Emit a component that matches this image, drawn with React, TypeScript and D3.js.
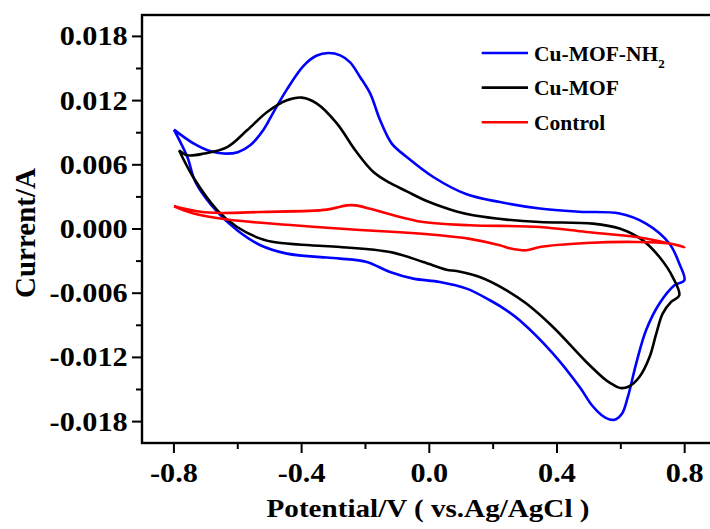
import React from "react";
import * as d3 from "d3";

// [Potential (V), Current (A)] traced around each closed CV loop
const cuMofNh2: [number, number][] = [
  [-0.8, 0.00929], [-0.7375, 0.00798], [-0.685, 0.00726], [-0.644, 0.00705], [-0.6, 0.00718],
  [-0.56, 0.00785], [-0.52, 0.00925], [-0.4875, 0.01095], [-0.446, 0.01305], [-0.394, 0.01525],
  [-0.354, 0.01619], [-0.316, 0.01645], [-0.279, 0.01623], [-0.248, 0.01558], [-0.217, 0.01421],
  [-0.185, 0.01265], [-0.154, 0.01016], [-0.1175, 0.00798], [-0.0706, 0.00673], [0.0125, 0.00486],
  [0.117, 0.00324], [0.221, 0.00252], [0.346, 0.00191], [0.471, 0.00161], [0.596, 0.00144],
  [0.679, 0.0005], [0.752, -0.00136], [0.783, -0.00323], [0.799, -0.0048], [0.768, -0.00526],
  [0.721, -0.00697], [0.679, -0.00947], [0.648, -0.01258], [0.622, -0.0157], [0.604, -0.01725],
  [0.585, -0.01778], [0.565, -0.01780], [0.54, -0.01740], [0.51, -0.01650], [0.471, -0.01477],
  [0.3875, -0.01164], [0.283, -0.00853], [0.242, -0.0076], [0.19, -0.00666], [0.117, -0.00557],
  [0.033, -0.00495], [-0.05, -0.00464], [-0.123, -0.00402], [-0.196, -0.00308], [-0.279, -0.00277],
  [-0.321, -0.00267], [-0.446, -0.0023], [-0.529, -0.00152], [-0.602, -0.00012], [-0.664, 0.00159],
  [-0.732, 0.00436], [-0.758, 0.00673], [-0.8, 0.00929],
];

const cuMof: [number, number][] = [
  [-0.784, 0.00736], [-0.758, 0.00689], [-0.706, 0.00705], [-0.633, 0.00766], [-0.571, 0.00922],
  [-0.508, 0.01093], [-0.446, 0.01203], [-0.399, 0.01228], [-0.352, 0.01172], [-0.289, 0.00985],
  [-0.232, 0.00736], [-0.175, 0.00533], [-0.123, 0.0043], [-0.0706, 0.00352], [-0.019, 0.00276],
  [0.033, 0.00215], [0.0856, 0.00163], [0.1375, 0.00128], [0.242, 0.00088], [0.346, 0.00065],
  [0.5125, 0.0005], [0.596, 0.00004], [0.669, -0.00106], [0.721, -0.00262], [0.7625, -0.00449],
  [0.783, -0.0062], [0.7575, -0.00682], [0.731, -0.00791], [0.711, -0.00978], [0.69, -0.01196],
  [0.658, -0.01383], [0.625, -0.01472], [0.598, -0.01486], [0.572, -0.01448], [0.554, -0.01414],
  [0.492, -0.01243], [0.3875, -0.00916], [0.304, -0.00697], [0.242, -0.00573], [0.158, -0.00449],
  [0.0856, -0.00393], [0.054, -0.0038], [-0.019, -0.00308], [-0.123, -0.00215], [-0.279, -0.00168],
  [-0.373, -0.00152], [-0.477, -0.00127], [-0.529, -0.0009], [-0.602, 0.00019], [-0.664, 0.00175],
  [-0.7375, 0.00474], [-0.784, 0.00736],
];

const control: [number, number][] = [
  [-0.8, 0.00212], [-0.717, 0.00161], [-0.654, 0.0015], [-0.529, 0.00159], [-0.321, 0.00181],
  [-0.258, 0.00221], [-0.232, 0.00221], [-0.185, 0.00189], [-0.123, 0.00137], [-0.019, 0.00065],
  [0.127, 0.00035], [0.346, 0.00019], [0.492, -0.00028], [0.648, -0.00075], [0.731, -0.00121],
  [0.799, -0.00168], [0.752, -0.00136], [0.648, -0.00121], [0.492, -0.00131], [0.346, -0.00168],
  [0.304, -0.00199], [0.252, -0.0018], [0.221, -0.00152], [0.127, -0.00092], [0.033, -0.00059],
  [-0.092, -0.00031], [-0.217, -0.00009], [-0.425, 0.00035], [-0.633, 0.00088], [-0.738, 0.00144],
  [-0.8, 0.00212],
];

const seriesNames = ["Cu-MOF-NH", "Cu-MOF", "Control"];
const seriesColors = ["#0000ff", "#000000", "#ff0000"];
const seriesData = [cuMofNh2, cuMof, control];

const xTicks = [-0.8, -0.4, 0.0, 0.4, 0.8];
const xTickLabels = ["-0.8", "-0.4", "0.0", "0.4", "0.8"];
const xMinorTicks = [-0.6, -0.2, 0.2, 0.6];
const yTicks = [0.018, 0.012, 0.006, 0.0, -0.006, -0.012, -0.018];
const yTickLabels = ["0.018", "0.012", "0.006", "0.000", "-0.006", "-0.012", "-0.018"];
const yMinorTicks = [0.015, 0.009, 0.003, -0.003, -0.009, -0.015];

const W = 710;
const H = 529;
const FONT = "'Liberation Serif', 'Times New Roman', serif";

export default function App() {
  const x = d3.scaleLinear().domain([-0.9, 0.9]).range([142, 716.6]);
  const y = d3.scaleLinear().domain([-0.02, 0.02]).range([443, 15]);
  const line = d3
    .line<[number, number]>()
    .x((d) => x(d[0]))
    .y((d) => y(d[1]))
    .curve(d3.curveCatmullRom.alpha(0.5));

  const left = x(-0.9);
  const right = x(0.9);
  const top = y(0.02);
  const bottom = y(-0.02);

  return (
    <svg
      width={W}
      height={H}
      style={{ position: "absolute", left: 0, top: 0, background: "#fff" }}
      fontFamily={FONT}
      fontWeight="bold"
    >
      <rect x={0} y={0} width={W} height={H} fill="#fff" />
      {/* curves */}
      {seriesData.map((d, i) => (
        <path key={i} d={line(d) || ""} fill="none" stroke={seriesColors[i]} strokeWidth={2.6} strokeLinejoin="round" />
      ))}
      {/* frame */}
      <rect x={left} y={top} width={right - left} height={bottom - top} fill="none" stroke="#000" strokeWidth={2.4} />
      {/* y ticks */}
      {yTicks.map((t, i) => (
        <g key={"yt" + i}>
          <line x1={left - 10} x2={left} y1={y(t)} y2={y(t)} stroke="#000" strokeWidth={2} />
          <text
            transform={`translate(${127.7},${y(t) + 9}) scale(1.12,1)`}
            textAnchor="end"
            fontSize={27}
            fill="#000"
          >
            {yTickLabels[i]}
          </text>
        </g>
      ))}
      {yMinorTicks.map((t, i) => (
        <line key={"ym" + i} x1={left - 6} x2={left} y1={y(t)} y2={y(t)} stroke="#000" strokeWidth={2} />
      ))}
      {/* x ticks */}
      {xTicks.map((t, i) => (
        <g key={"xt" + i}>
          <line x1={x(t)} x2={x(t)} y1={bottom} y2={bottom + 10} stroke="#000" strokeWidth={2} />
          <text
            transform={`translate(${x(t)},${481.7}) scale(1.12,1)`}
            textAnchor="middle"
            fontSize={27}
            fill="#000"
          >
            {xTickLabels[i]}
          </text>
        </g>
      ))}
      {xMinorTicks.map((t, i) => (
        <line key={"xm" + i} x1={x(t)} x2={x(t)} y1={bottom} y2={bottom + 6} stroke="#000" strokeWidth={2} />
      ))}
      {/* axis titles */}
      <text
        transform={`translate(${428},${517}) scale(1.12,1)`}
        textAnchor="middle"
        fontSize={26}
        fill="#000"
        style={{ whiteSpace: "pre" }}
      >
        {"Potential/V ( vs.Ag/AgCl )"}
      </text>
      <text
        transform={`translate(${35},${233}) rotate(-90)`}
        textAnchor="middle"
        fontSize={29}
        fill="#000"
      >
        Current/A
      </text>
      {/* legend */}
      {seriesNames.map((name, i) => {
        const ly = 53 + i * 34.6;
        return (
          <g key={"lg" + i}>
            <line x1={481.7} x2={528} y1={ly} y2={ly} stroke={seriesColors[i]} strokeWidth={2.6} />
            <text x={534} y={ly + 7.5} fontSize={21.5} fill="#000">
              {name}
              {i === 0 ? (
                <tspan fontSize={13} dy={7}>
                  2
                </tspan>
              ) : null}
            </text>
          </g>
        );
      })}
    </svg>
  );
}
